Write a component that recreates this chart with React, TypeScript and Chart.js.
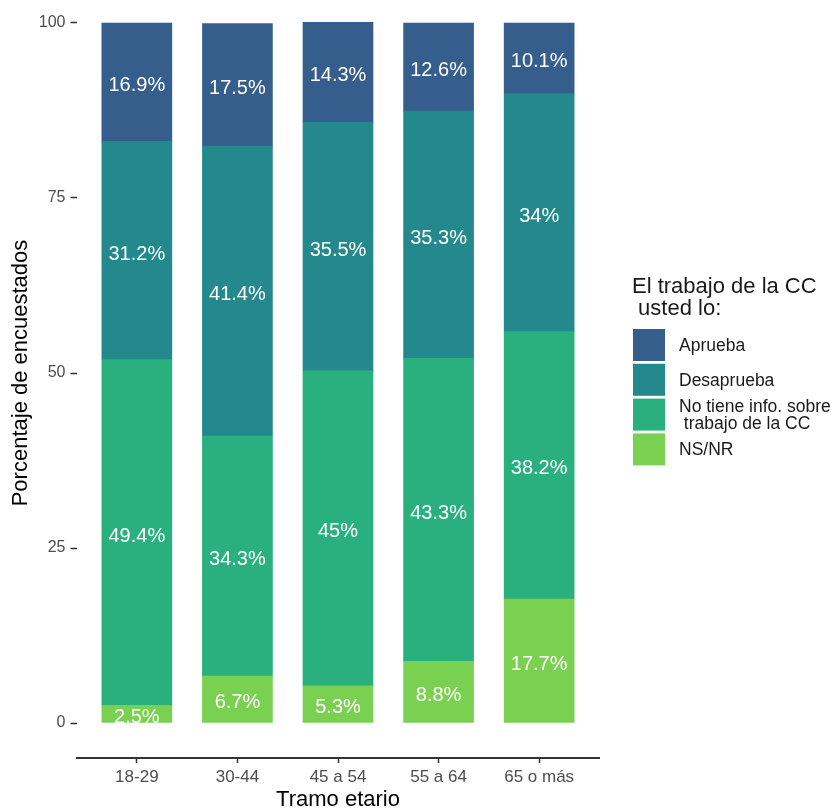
import React, { useEffect, useRef } from "react";
import { Chart, registerables } from "chart.js";

Chart.register(...registerables);

// ---------- data ----------
const categories = ["18-29", "30-44", "45 a 54", "55 a 64", "65 o más"];
const seriesNames = ["Aprueba", "Desaprueba", "No tiene info. sobre\n trabajo de la CC", "NS/NR"];
const aprueba = [16.9, 17.5, 14.3, 12.6, 10.1];
const desaprueba = [31.2, 41.4, 35.5, 35.3, 34];
const noTieneInfo = [49.4, 34.3, 45, 43.3, 38.2];
const nsnr = [2.5, 6.7, 5.3, 8.8, 17.7];
const seriesColors = ["#355E8C", "#23898D", "#2AAF7F", "#7AD151"];
const yTicks = [0, 25, 50, 75, 100];
const legendTitle = ["El trabajo de la CC", " usted lo:"];
const xTitle = "Tramo etario";
const yTitle = "Porcentaje de encuestados";

const FONT = '"Liberation Sans", Arial, Helvetica, sans-serif';
const OFFSET_Y = 12; // canvas is shifted up so the top of the panel is cropped like the reference

const barLabelPlugin = {
  id: "barLabels",
  afterDatasetsDraw(chart: any) {
    const ctx = chart.ctx;
    ctx.save();
    ctx.font = `20px ${FONT}`;
    ctx.fillStyle = "#ffffff";
    ctx.textAlign = "center";
    ctx.textBaseline = "middle";
    chart.data.datasets.forEach((ds: any, di: number) => {
      const meta = chart.getDatasetMeta(di);
      meta.data.forEach((el: any, i: number) => {
        const { x, y, base } = el.getProps(["x", "y", "base"], true);
        const v = ds.data[i].y;
        ctx.fillText(`${v}%`, x, (y + base) / 2 + 3.5);
      });
    });
    ctx.restore();
  },
};

const legendPlugin = {
  id: "customLegend",
  afterDraw(chart: any) {
    const ctx = chart.ctx;
    ctx.save();
    ctx.fillStyle = "#1a1a1a";
    ctx.textAlign = "left";
    ctx.textBaseline = "alphabetic";
    ctx.font = `22px ${FONT}`;
    legendTitle.forEach((line, i) => {
      ctx.fillText(line, 632, 292.5 + OFFSET_Y + i * 22.7);
    });
    const keyTop = 329 + OFFSET_Y;
    const pitch = 34.8;
    const size = 32;
    seriesNames.forEach((name, i) => {
      const top = keyTop + i * pitch;
      ctx.fillStyle = seriesColors[i];
      ctx.fillRect(633, top, size, size);
      ctx.fillStyle = "#1a1a1a";
      ctx.font = `17.5px ${FONT}`;
      ctx.textBaseline = "middle";
      const lines = name.split("\n");
      const lh = 16.5;
      const cy = top + size / 2;
      lines.forEach((ln, j) => {
        ctx.fillText(ln, 679, cy + (j - (lines.length - 1) / 2) * lh + 1);
      });
    });
    ctx.restore();
  },
};

export default function App() {
  const ref = useRef<HTMLCanvasElement | null>(null);

  useEffect(() => {
    if (!ref.current) return;
    const stackOrder = [3, 2, 1, 0]; // bottom to top: NS/NR, No tiene, Desaprueba, Aprueba
    const seriesValues = [aprueba, desaprueba, noTieneInfo, nsnr];
    const datasets = stackOrder.map((si) => ({
      label: seriesNames[si],
      data: seriesValues[si].map((v, i) => ({ x: i, y: v })),
      backgroundColor: seriesColors[si],
      borderWidth: 0,
      barThickness: 70,
    }));

    const chart = new Chart(ref.current, {
      type: "bar",
      data: { datasets },
      options: {
        animation: false,
        responsive: false,
        devicePixelRatio: 1,
        layout: { padding: { left: 0, right: 233.5, top: 0, bottom: 0 } },
        plugins: {
          legend: { display: false },
          tooltip: { enabled: false },
        },
        scales: {
          x: {
            type: "linear",
            stacked: true,
            offset: false,
            min: -0.6,
            max: 4.6,
            afterBuildTicks: (s: any) => {
              s.ticks = categories.map((_, i) => ({ value: i }));
            },
            afterFit: (s: any) => {
              s.height = 50;
              s.paddingLeft = 0;
              s.paddingRight = 0;
            },
            ticks: {
              callback: (v: any) => categories[v] ?? "",
              color: "#4d4d4d",
              font: { family: FONT, size: 17 },
              padding: 4,
              maxRotation: 0,
              autoSkip: false,
            },
            grid: {
              display: true,
              offset: false,
              drawOnChartArea: false,
              drawTicks: true,
              tickLength: 5,
              tickColor: "#333333",
              tickWidth: 1.5,
            },
            border: { display: true, color: "#333333", width: 2 },
            title: {
              display: true,
              text: xTitle,
              color: "#000000",
              font: { family: FONT, size: 22 },
              padding: { top: 0, bottom: -5 },
            },
          },
          y: {
            type: "linear",
            stacked: true,
            min: -5,
            max: 105,
            afterBuildTicks: (s: any) => {
              s.ticks = yTicks.map((v) => ({ value: v }));
            },
            afterFit: (s: any) => {
              s.width = 76.5;
              s.paddingTop = 0;
              s.paddingBottom = 0;
            },
            ticks: {
              color: "#4d4d4d",
              font: { family: FONT, size: 16 },
              padding: 5,
            },
            grid: {
              display: true,
              drawOnChartArea: false,
              drawTicks: true,
              tickLength: 6,
              tickColor: "#333333",
              tickWidth: 1.5,
            },
            border: { display: false },
            title: {
              display: true,
              text: yTitle,
              color: "#000000",
              font: { family: FONT, size: 22 },
              padding: 8,
            },
          },
        },
      },
      plugins: [barLabelPlugin, legendPlugin],
    } as any);

    return () => chart.destroy();
  }, []);

  return (
    <div style={{ position: "absolute", left: 0, top: -OFFSET_Y, width: 833, height: 820 }}>
      <canvas ref={ref} width={833} height={820} style={{ width: 833, height: 820, display: "block" }} />
    </div>
  );
}
